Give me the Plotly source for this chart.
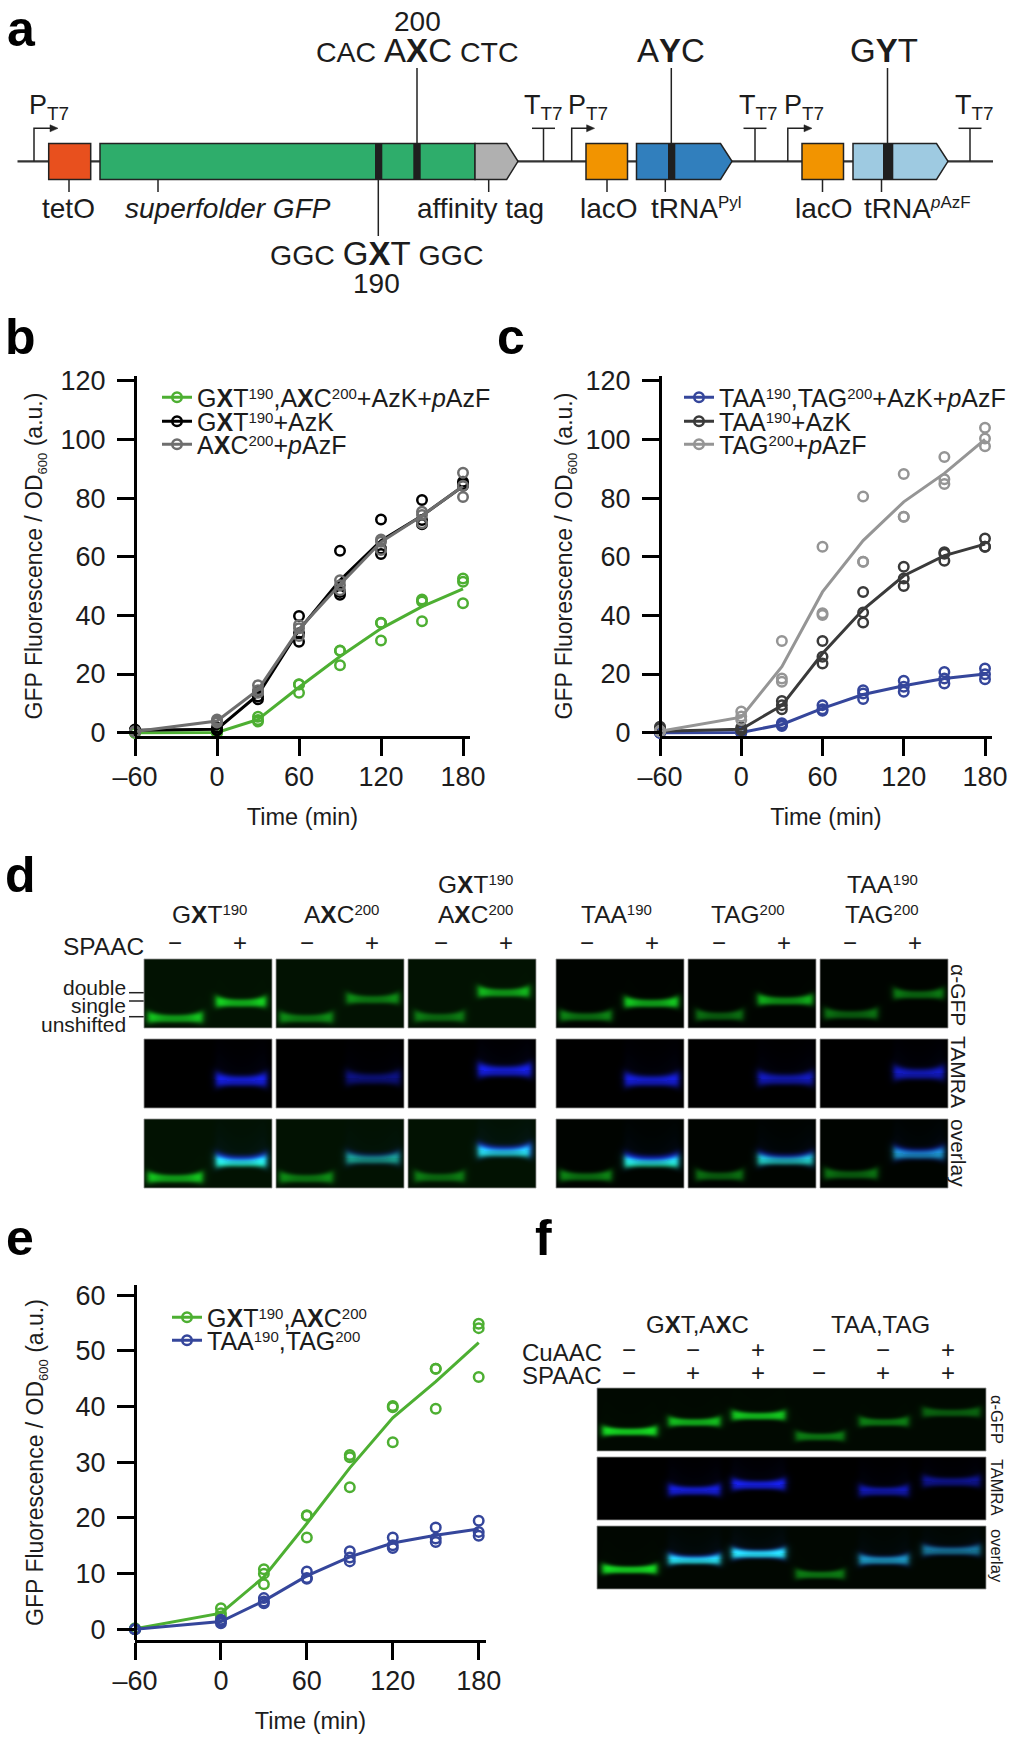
import numpy as np
import plotly.graph_objects as go

W, H = 1027, 1752
FONT = "Liberation Sans"
INK = "#1c1c1c"

# ---------- data ----------
time_points = [-60, 0, 30, 60, 90, 120, 150, 180]
x_ticks = [-60, 0, 60, 120, 180]
x_tick_labels = ["\u201360", "0", "60", "120", "180"]
y_ticks_bc = [0, 20, 40, 60, 80, 100, 120]
y_ticks_e = [0, 10, 20, 30, 40, 50, 60]

b_double_pts = [[0, 0, 0], [0, 0, 0.3], [5.4, 4.3, 3.8], [16.5, 13.6, 16.4], [28, 23, 27.9], [37.5, 31.4, 37.4], [45.4, 44.7, 38], [52.6, 51.5, 44.1]]
b_double_mean = [0, 0.1, 4.5, 15.5, 26, 35.5, 43, 49]
b_gxt_pts = [[1.1, 0.8, 0.6], [1.8, 1.0, 0.8], [14, 12.3, 11.4], [39.8, 33.9, 31], [62, 48, 47], [72.7, 62.8, 60.9], [79.3, 72.5, 71.1], [85.6, 84.2, 84.8]]
b_gxt_mean = [0.8, 1.2, 12.9, 35, 52, 65.5, 74, 84]
b_axc_pts = [[0.5, 0.4, 0.3], [4.5, 4, 3.5], [16.2, 14.5, 13.6], [36.7, 35.6, 33], [52, 50.3, 48.6], [65.9, 65.1, 62.3], [75.3, 74.2, 71.4], [88.6, 80.4, 84.2]]
b_axc_mean = [0.4, 4, 14.6, 35.3, 50.5, 65, 74, 84]

c_double_pts = [[0, 0, 0], [0, 0, 0.2], [3.2, 2.6, 2.3], [9.4, 7.5, 8], [14.5, 13.4, 11.5], [17.7, 15.7, 14], [20.7, 18.5, 16.8], [21.9, 19.9, 18.2]]
c_double_mean = [0, 0.1, 2.8, 8.3, 13, 16, 18.5, 20]
c_taa_pts = [[2, 1.5, 0.5], [1.8, 1.2, 0.8], [10.8, 9.4, 8], [31.3, 25.9, 23.6], [48, 41, 37.6], [56.6, 52.6, 50], [61.5, 58.6, 61], [66.2, 63.4, 63.4]]
c_taa_mean = [0.5, 1.2, 9.3, 27, 42, 53.5, 60.4, 64.3]
c_tag_pts = [[0.6, 0.5, 0.4], [7.2, 5.5, 4.3], [31.3, 18.5, 17.4], [63.4, 40.7, 40.1], [80.5, 58.3, 58.3], [88.2, 73.6, 73.6], [94, 86.4, 84.8], [104, 100.3, 97.7]]
c_tag_mean = [0.5, 5.3, 22.5, 48, 65.5, 78.7, 88.4, 100]

e_sense_pts = [[0.2, 0, 0], [3.8, 2.9, 2.3], [10.8, 10, 8.1], [20.5, 20.4, 16.5], [31.3, 30.9, 25.5], [40.1, 39.9, 33.6], [46.8, 46.8, 39.6], [54.9, 54.1, 45.3]]
e_sense_mean = [0.1, 2.9, 9.4, 19, 29, 38, 44.5, 51.5]
e_stop_pts = [[0, 0, 0], [1.4, 1.1, 1.7], [5.6, 5, 4.7], [10.4, 9.2, 9.1], [14, 12.9, 12.2], [16.5, 15.1, 14.6], [18.3, 15.7, 16.3], [19.5, 17.5, 16.8]]
e_stop_mean = [0, 1.4, 5.1, 9.6, 13, 15.5, 16.9, 18]

GREEN, BLUE = "#4DAF32", "#35469B"


def sup(s, size=15, shift=8):
    return f'<span style="font-size:{size}px;baseline-shift:{shift}px">{s}</span>'


Y_TITLE = 'GFP Fluorescence / OD<span style="font-size:13px;baseline-shift:-5px">600</span> (a.u.)'
GXT, AXC = "G<b>X</b>T", "A<b>X</b>C"
S190, S200 = sup("190"), sup("200")

# gel band tables: lane start, lane end, height in gel, strength (all as fractions of a gel)
d_green_bands = [
    [(.034, .454, .855, .9), (.567, .948, .63, 1.0)],
    [(.034, .44, .855, .62), (.556, .956, .58, .62)],
    [(.057, .435, .84, .55), (.552, .943, .483, .85)],
    [(.037, .43, .83, .65), (.54, .95, .635, 1.0)],
    [(.068, .425, .82, .55), (.55, .97, .60, .85)],
    [(.04, .445, .80, .55), (.58, .96, .51, .6)],
]
d_blue_bands = [
    [(.565, .955, .60, 1.0)],
    [(.55, .965, .57, .55)],
    [(.55, .96, .46, 1.0)],
    [(.54, .955, .60, .95)],
    [(.55, .975, .58, .8)],
    [(.58, .965, .50, .85)],
]
f_green_bands = [(.015, .153, .69, 1.0), (.185, .316, .54, .85), (.348, .483, .44, .9),
                 (.512, .635, .77, .55), (.675, .80, .54, .55), (.838, .984, .39, .42)]
f_blue_bands = [(.185, .316, .53, .95), (.348, .483, .44, 1.0), (.675, .80, .54, .75), (.838, .984, .39, .6)]

d_group_labels = [GXT + S190, AXC + S200, "TAA" + S190, "TAG" + S200]

# ---------- layout constants (pixels) ----------
def X(p): return p / W
def Y(p): return 1 - p / H

fig = go.Figure()
shapes, annots = [], []


def text(x, y, s, size=24, anchor="center", color=INK, bold=False, angle=0):
    annots.append(dict(x=x, y=y, xref="x", yref="y", text=f"<b>{s}</b>" if bold else s, showarrow=False,
                       xanchor=anchor, yanchor="middle", textangle=angle,
                       font=dict(family=FONT, size=size, color=color), borderpad=0, borderwidth=0))


def line(x0, y0, x1, y1, w=1.5, color="#222222"):
    shapes.append(dict(type="line", x0=x0, y0=y0, x1=x1, y1=y1, xref="x", yref="y", line=dict(color=color, width=w)))


def path(d, fill, w=1.5, color="#222222"):
    shapes.append(dict(type="path", path=d, xref="x", yref="y", fillcolor=fill, line=dict(color=color, width=w)))


# overlay axes in pixels
fig.update_layout(
    xaxis=dict(domain=[0, 1], range=[0, W], visible=False, fixedrange=True, anchor="y"),
    yaxis=dict(domain=[0, 1], range=[H, 0], visible=False, fixedrange=True, anchor="x"),
)

# ---------- gels ----------
def band_layer(shape, bands, sigma, smile, smear, floor):
    h, w = shape
    out = np.zeros((h, w))
    yy, xx = np.mgrid[0:h, 0:w]
    for u0, u1, v, amp in bands:
        a, b = u0 * w, u1 * w
        t = (xx + .5 - (a + b) / 2) / ((b - a) / 2)
        at = np.abs(t)
        edge = 1 / (1 + np.exp((at - 1) * (b - a) / 2 / 1.8))
        yc = v * h - smile * t ** 2 + smile * .4
        bright = floor + (1 - floor) * at ** 3
        s = sigma * (.72 + .38 * at ** 3)
        dy = yy + .5 - yc
        prof = np.exp(-np.abs(dy / (1.35 * s)) ** 2.6)
        tail = smear * (.5 + .5 * at ** 2) * np.exp(np.minimum(dy, 0) / (h * .28)) * (dy < 0)
        out += amp * edge * bright * (prof + tail)
    return np.clip(out, 0, 1)


def add_gel(x0, y0, w, h, green=None, blue=None, bg=(0, 0, 0)):
    z = np.zeros((h, w, 3))
    z[..., 0], z[..., 1], z[..., 2] = bg
    if green is not None:
        z[..., 0] += green * 25
        z[..., 1] += green * 250
        z[..., 2] += green * 40
    if blue is not None:
        z[..., 0] += blue * 25
        z[..., 1] += blue * 35
        z[..., 2] += blue * 255
    fig.add_trace(go.Image(z=np.clip(z, 0, 255).astype(int).tolist(), x0=x0 + .5, y0=y0 + .5, dx=1, dy=1,
                           xaxis="x", yaxis="y", hoverinfo="skip", colormodel="rgb"))
    shapes.append(dict(type="rect", x0=x0, x1=x0 + w, y0=y0, y1=y0 + h, xref="x", yref="y",
                       line=dict(color="rgba(150,150,150,.8)", width=1)))


d_cols = [144, 276, 408, 556, 688, 820]
d_rows = [959, 1039, 1119]
d_w, d_h = 128, 69
for i, xc in enumerate(d_cols):
    bg = (2, 18, 2) if i < 3 else (0, 4, 0)
    g = band_layer((d_h, d_w), d_green_bands[i], 4.3, 1.4, .02, .58)
    bl = band_layer((d_h, d_w), d_blue_bands[i], 5.6, 1.2, .16, .72)
    add_gel(xc, d_rows[0], d_w, d_h, green=g, bg=bg)
    add_gel(xc, d_rows[1], d_w, d_h, blue=bl)
    add_gel(xc, d_rows[2], d_w, d_h, green=g, blue=bl, bg=bg)

f_x, f_w, f_h = 597, 389, 63
f_rows = [1388, 1457, 1526]
fg = band_layer((f_h, f_w), f_green_bands, 3.9, 1.0, .03, .72)
fb = band_layer((f_h, f_w), f_blue_bands, 4.6, .8, .16, .75)
add_gel(f_x, f_rows[0], f_w, f_h, green=fg, bg=(1, 9, 1))
add_gel(f_x, f_rows[1], f_w, f_h, blue=fb)
add_gel(f_x, f_rows[2], f_w, f_h, green=fg, blue=fb, bg=(1, 7, 1))

# ---------- charts ----------
charts = [
    dict(ax="2", left=135, right=470, top=376, bottom=736, px=328 / 240, py=2.933, y0=732.7, ticks=y_ticks_bc,
         title="\u00a0\u00a0Time (min)", ystand=10,
         series=[(GXT + S190 + "," + AXC + S200 + "+AzK+<i>p</i>AzF", GREEN, b_double_pts, b_double_mean, 197, 397.5),
                 (GXT + S190 + "+AzK", "#000000", b_gxt_pts, b_gxt_mean, 197, 421.5),
                 (AXC + S200 + "+<i>p</i>AzF", "#6E6E6E", b_axc_pts, b_axc_mean, 197, 444.5)]),
    dict(ax="3", left=660, right=992, top=376, bottom=736, px=325 / 240, py=2.933, y0=732.7, ticks=y_ticks_bc,
         title="\u00a0Time (min)", ystand=5,
         series=[("TAA" + S190 + ",TAG" + S200 + "+AzK+<i>p</i>AzF", BLUE, c_double_pts, c_double_mean, 719, 397.5),
                 ("TAA" + S190 + "+AzK", "#3A3A3A", c_taa_pts, c_taa_mean, 719, 421.5),
                 ("TAG" + S200 + "+<i>p</i>AzF", "#959595", c_tag_pts, c_tag_mean, 719, 444.5)]),
    dict(ax="4", left=135, right=486, top=1285, bottom=1640, px=343.7 / 240, py=5.567, y0=1629.3, ticks=y_ticks_e,
         title="Time (min)", ystand=24,
         series=[(GXT + S190 + "," + AXC + S200, GREEN, e_sense_pts, e_sense_mean, 207, 1317.5),
                 ("TAA" + S190 + ",TAG" + S200, BLUE, e_stop_pts, e_stop_mean, 207, 1340.5)]),
]

legend_n = 0
for c in charts:
    a = c["ax"]
    xr = [-60, -60 + (c["right"] - c["left"]) / c["px"]]
    yr = [(c["y0"] - c["bottom"]) / c["py"], (c["y0"] - c["top"]) / c["py"]]
    fig.layout[f"xaxis{a}"] = dict(
        domain=[X(c["left"]), X(c["right"])], range=xr, anchor=f"y{a}", tickmode="array", tickvals=x_ticks,
        ticktext=x_tick_labels, ticks="outside", ticklen=17, tickwidth=3, tickcolor="#000", showline=True,
        linewidth=3, linecolor="#000", showgrid=False, zeroline=False, fixedrange=True, ticklabelstandoff=-2,
        tickfont=dict(family=FONT, size=27, color=INK),
        title=dict(text=c["title"], font=dict(family=FONT, size=23.5, color=INK), standoff=18))
    fig.layout[f"yaxis{a}"] = dict(
        domain=[Y(c["bottom"]), Y(c["top"])], range=yr, anchor="free", position=X(c["left"]), tickmode="array",
        tickvals=c["ticks"], ticks="outside", ticklen=17, tickwidth=3, tickcolor="#000", showline=True,
        linewidth=3, linecolor="#000", showgrid=False, zeroline=False, fixedrange=True, ticklabelstandoff=6,
        tickfont=dict(family=FONT, size=27, color=INK),
        title=dict(text=Y_TITLE, font=dict(family=FONT, size=23, color=INK), standoff=c["ystand"]))
    for name, col, pts, mean, tx, ty in c["series"]:
        xs = [t for t in time_points for _ in range(3)]
        ys = [v for row in pts for v in row]
        fig.add_trace(go.Scatter(x=xs, y=ys, mode="markers", xaxis=f"x{a}", yaxis=f"y{a}", showlegend=False,
                                 cliponaxis=False, hoverinfo="skip",
                                 marker=dict(symbol="circle-open", size=9.5, color=col, line=dict(width=2.5, color=col))))
        fig.add_trace(go.Scatter(x=time_points, y=mean, mode="lines", xaxis=f"x{a}", yaxis=f"y{a}", showlegend=False,
                                 cliponaxis=False, line=dict(color=col, width=3)))
        legend_n += 1
        key = "legend" if legend_n == 1 else f"legend{legend_n}"
        fig.add_trace(go.Scatter(x=[None], y=[None], mode="lines+markers", xaxis=f"x{a}", yaxis=f"y{a}", name=name,
                                 legend=key, showlegend=True, line=dict(color=col, width=3),
                                 marker=dict(symbol="circle-open", size=9.5, color=col, line=dict(width=2.5, color=col))))
        fig.layout[key] = dict(x=X(tx - 40), y=Y(ty), xanchor="left", yanchor="middle", bgcolor="rgba(0,0,0,0)",
                               borderwidth=0, font=dict(family=FONT, size=25, color=INK), itemclick=False,
                               itemdoubleclick=False)

# ---------- panel a: construct map ----------
BY = 161.3
TOP, BOT = 143.5, 179.5
line(17.5, BY, 993, BY, 2.2, "#333333")
for x0, x1, col in [(48.7, 90.7, "#E8501E"), (586, 627.5, "#F29400"), (802, 843.5, "#F29400")]:
    path(f"M{x0},{TOP}H{x1}V{BOT}H{x0}Z", col)
path(f"M100,{TOP}H475V{BOT}H100Z", "#2EAD6B")
path(f"M475,{TOP}H506.7L518,{BY}L506.7,{BOT}H475Z", "#B0B0B0")
path(f"M636.5,{TOP}H720.5L732,{BY}L720.5,{BOT}H636.5Z", "#317FBD")
path(f"M853,{TOP}H936.5L948,{BY}L936.5,{BOT}H853Z", "#9ECAE1")
for x0, x1 in [(375, 382.3), (413.3, 420.7), (668, 675.3), (883, 893.3)]:
    shapes.append(dict(type="rect", x0=x0, x1=x1, y0=TOP, y1=BOT, xref="x", yref="y", fillcolor="#1f1f1f", line=dict(width=0)))
for x in [417, 671.3, 887.5]:
    line(x, 68, x, TOP)
line(378.3, BOT, 378.3, 236)
for x in [69, 158, 488.7, 607, 665.3, 822.5, 881.5]:
    line(x, BOT, x, 192)
for x, xe in [(34, 58), (571.7, 594.6), (787.8, 812)]:
    path(f"M{x},{BY}V128.3H{xe - 7}", "rgba(0,0,0,0)")
    path(f"M{xe - 8},124.8L{xe},128.3L{xe - 8},131.8Z", "#222222", w=.5)
for x in [543.5, 755, 970]:
    line(x, BY, x, 128.3)
    line(x - 11.5, 128.3, x + 11.5, 128.3)

for s, x in [("P", 49), ("T", 543), ("P", 588), ("T", 758), ("P", 803.5), ("T", 974.5)]:
    text(x, 107, f"{s}<sub>T7</sub>", 27)
big = '<span style="font-size:33px">%s</span>'
text(417, 21, "200", 28)
text(417, 50, "CAC " + big % AXC + " CTC", 28.5)
text(671.3, 50, "A<b>Y</b>C", 33)
text(884, 50, "G<b>Y</b>T", 33)
text(376.5, 253, "GGC " + big % GXT + " GGC", 28.5)
text(376.5, 283, "190", 28)
text(68.5, 208, "tetO", 28)
text(228, 208, "<i>superfolder GFP</i>", 28)
text(480, 208, "affinity tag", 28)
text(609, 208, "lacO", 28)
text(696.5, 208, "tRNA" + sup("Pyl", 17, 10), 28)
text(824, 208, "lacO", 28)
text(917.5, 208, "tRNA" + sup("<i>p</i>AzF", 17, 10), 28)

# ---------- gel labels ----------
sign_y = 942.7
for xm, xp in [(175, 240), (307, 372), (441, 506), (587, 652), (719, 784), (850, 915)]:
    text(xm, sign_y, "\u2212", 24)
    text(xp, sign_y, "+", 24)
text(143.7, 946, "SPAAC", 24.5, anchor="right")
text(209, 914, d_group_labels[0], 24.5)
text(341, 914, d_group_labels[1], 24.5)
text(475, 884, d_group_labels[0], 24.5)
text(475, 914, d_group_labels[1], 24.5)
text(616, 914, d_group_labels[2], 24.5)
text(748, 914, d_group_labels[3], 24.5)
text(882, 884, d_group_labels[2], 24.5)
text(882, 914, d_group_labels[3], 24.5)
for s, y in [("double", 987), ("single", 1005.7), ("unshifted", 1024)]:
    text(125.7, y, s, 21, anchor="right")
for y in [992.7, 1001, 1016.7]:
    line(129, y, 143.7, y)
for s, y in [("\u03b1-GFP", 995), ("TAMRA", 1072), ("overlay", 1153)]:
    text(959, y, s, 21, angle=90)

text(697.7, 1324, GXT + "," + AXC, 24)
text(880.7, 1324, "TAA,TAG", 24)
text(602, 1352, "CuAAC", 24, anchor="right")
text(602, 1375, "SPAAC", 24, anchor="right")
f_lanes = [629, 693, 758, 819, 882.7, 948]
for x, a_, b_ in zip(f_lanes, "--+--+", "-++-++"):
    text(x, 1349, "+" if a_ == "+" else "\u2212", 24)
    text(x, 1372, "+" if b_ == "+" else "\u2212", 24)
for s, y in [("\u03b1-GFP", 1419), ("TAMRA", 1487), ("overlay", 1556)]:
    text(997, y, s, 16.5, angle=90)

# ---------- panel letters ----------
for s, x, y in [("a", 21, 29), ("b", 20, 337), ("c", 511, 337), ("d", 20, 875), ("e", 20, 1238), ("f", 543, 1238)]:
    text(x, y, s, 50, color="#000000", bold=True)

fig.update_layout(
    width=W, height=H, margin=dict(l=0, r=0, t=0, b=0, pad=0, autoexpand=False), autosize=False,
    paper_bgcolor="white", plot_bgcolor="rgba(0,0,0,0)", shapes=shapes, annotations=annots,
    font=dict(family=FONT, color=INK), hovermode=False, dragmode=False,
)
fig.write_html("out.html", config=dict(displayModeBar=False),
               post_script="document.body.style.margin='0';document.body.style.overflow='hidden';")
